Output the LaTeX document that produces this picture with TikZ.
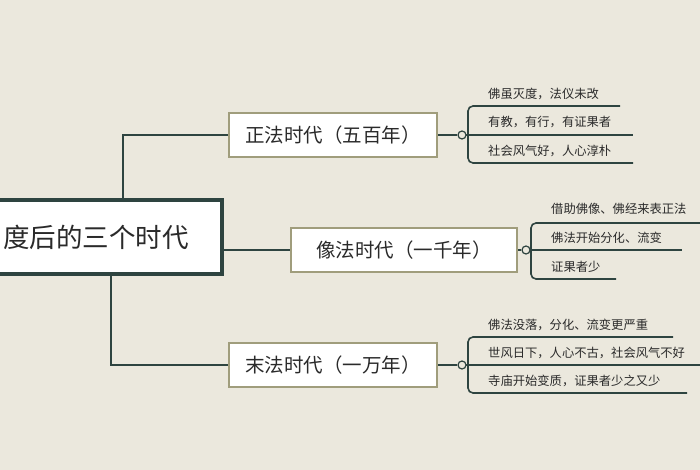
\documentclass[tikz,border=0pt]{standalone}
\usepackage{fontspec}
\setmainfont{Noto Sans CJK SC}
\begin{document}
\begin{tikzpicture}[x=1pt,y=-1pt,
  conn/.style={draw=lineC,line width=2pt},
  thin/.style={draw=lineC,line width=1.6pt,rounded corners=5pt},
  branch/.style={draw=boxC,line width=2.5pt,fill=white,minimum height=44pt,inner sep=0pt,font=\fontsize{19.5}{22}\selectfont,text=textC},
  leaf/.style={anchor=west,inner sep=0pt,font=\fontsize{12.3}{14}\selectfont,text=textC},
  knob/.style={circle,draw=lineC,line width=1.2pt,fill=bgC,minimum size=8pt,inner sep=0pt}]
\definecolor{bgC}{HTML}{EBE8DD}
\definecolor{lineC}{HTML}{2E4440}
\definecolor{boxC}{HTML}{A09D7C}
\definecolor{textC}{HTML}{2A2A2A}
\fill[bgC] (0,0) rectangle (700,470);
\useasboundingbox (0,0) rectangle (700,470);
% root
\node[draw=lineC,line width=4pt,fill=white,minimum width=240pt,minimum height=74pt,inner sep=0pt] (root) at (102,237) {};
\node[anchor=east,inner sep=0pt,font=\fontsize{26.5}{30}\selectfont,text=textC] (rt) at (189,237) {度后的三个时代};
% branches
\node[branch,minimum width=208pt] (b1) at (333,135) {正法时代（五百年）};
\node[branch,minimum width=226pt] (b2) at (404,250) {像法时代（一千年）};
\node[branch,minimum width=208pt] (b3) at (333,365) {末法时代（一万年）};
\coordinate (r1) at (123,199);
\coordinate (r3) at (111,275);
\draw[conn] (r1) |- (b1.west);
\draw[conn] (root.east |- b2.west) -- (b2.west);
\draw[conn] (r3) |- (b3.west);
% branch 1 leaves
\coordinate (k1) at (462,135);
\draw[thin] (620,106) -- (468,106) -- (468,163) -- (633,163);
\draw[thin] (k1) -- (633,135);
\node[knob] (c1) at (k1) {};
\draw[conn,line width=1.6pt] (b1.east) -- (c1);
\node[leaf] (l11) at (488,94) {佛虽灭度，法仪未改};
\node[leaf] (l12) at (488,122) {有教，有行，有证果者};
\node[leaf] (l13) at (488,151) {社会风气好，人心淳朴};
% branch 2 leaves
\coordinate (k2) at (526,250);
\draw[thin] (700,223) -- (531,223) -- (531,279) -- (616,279);
\draw[thin] (k2) -- (682,250);
\node[knob] (c2) at (k2) {};
\draw[conn,line width=1.6pt] (b2.east) -- (c2);
\node[leaf] (l21) at (551,209) {借助佛像、佛经来表正法};
\node[leaf] (l22) at (551,238) {佛法开始分化、流变};
\node[leaf] (l23) at (551,267) {证果者少};
% branch 3 leaves
\coordinate (k3) at (462,365);
\draw[thin] (673,337) -- (468,337) -- (468,393) -- (687,393);
\draw[thin] (k3) -- (700,365);
\node[knob] (c3) at (k3) {};
\draw[conn,line width=1.6pt] (b3.east) -- (c3);
\node[leaf] (l31) at (488,325) {佛法没落，分化、流变更严重};
\node[leaf] (l32) at (488,353) {世风日下，人心不古，社会风气不好};
\node[leaf] (l33) at (488,381) {寺庙开始变质，证果者少之又少};
\end{tikzpicture}
\end{document}
